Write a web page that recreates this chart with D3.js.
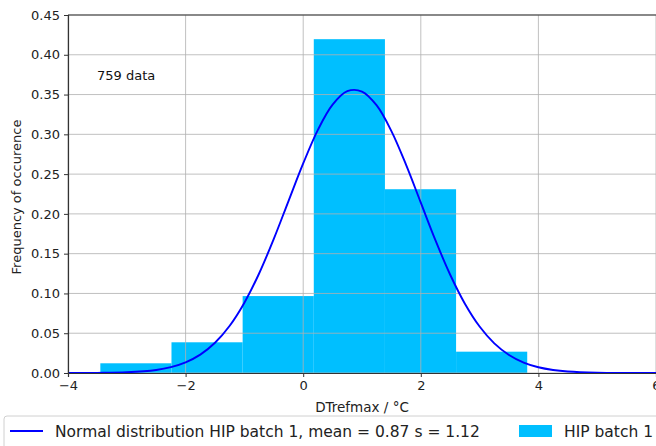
<!DOCTYPE html>
<html>
<head>
<meta charset="utf-8">
<script src="https://cdn.jsdelivr.net/npm/d3@7"></script>
<style>
  html, body { margin: 0; padding: 0; background: #fff; }
  svg { display: block; font-family: "DejaVu Sans", sans-serif; }
</style>
</head>
<body>
<svg id="chart" width="656" height="446"></svg>
<script>
// histogram bins (edges in °C) and density heights
const binEdges = [-3.45, -2.24, -1.03, 0.18, 1.39, 2.60, 3.81];
const binHeights = [0.0122, 0.0386, 0.0967, 0.4196, 0.2310, 0.0268];

// normal curve points (mean 0.87, s 1.12)
const curveX = [-4, -3.5, -3, -2.5, -2.25, -2, -1.75, -1.5, -1.25, -1, -0.75, -0.5, -0.25, 0, 0.25, 0.5, 0.75,
  1, 1.25, 1.5, 1.75, 2, 2.25, 2.5, 2.75, 3, 3.25, 3.5, 3.75, 4, 4.25, 4.5, 5, 5.5, 6];
const curveY = [0.00003, 0.00018, 0.00091, 0.00385, 0.0074, 0.0134, 0.0231, 0.0380, 0.0594, 0.0884, 0.1251,
  0.1686, 0.2161, 0.2634, 0.3056, 0.3373, 0.3542, 0.3538, 0.3363, 0.3041, 0.2616, 0.2141, 0.1667, 0.1235,
  0.0871, 0.0584, 0.0372, 0.0226, 0.0131, 0.0072, 0.0038, 0.0019, 0.0004, 0.00007, 0.00001];

const xTicks = [-4, -2, 0, 2, 4, 6];
const yTicks = [0, 0.05, 0.10, 0.15, 0.20, 0.25, 0.30, 0.35, 0.40, 0.45];

const plot = { left: 68, right: 656, top: 15, bottom: 373 };

const svg = d3.select('#chart');

const x = d3.scaleLinear().domain([-4, 6]).range([plot.left, plot.right]);
const y = d3.scaleLinear().domain([0, 0.45]).range([plot.bottom, plot.top]);

// bars
const bins = binHeights.map((h, i) => ({ x0: binEdges[i], x1: binEdges[i + 1], h }));
svg.append('g')
  .selectAll('rect')
  .data(bins)
  .enter()
  .append('rect')
  .attr('x', d => x(d.x0))
  .attr('width', d => x(d.x1) - x(d.x0))
  .attr('y', d => y(d.h))
  .attr('height', d => y(0) - y(d.h))
  .attr('fill', '#00bfff');

// grid (drawn above bars, like the original)
const grid = svg.append('g').attr('stroke', '#b0b0b0').attr('stroke-opacity', 0.8).attr('stroke-width', 1);
grid.selectAll('line.gx')
  .data(xTicks)
  .enter()
  .append('line')
  .attr('x1', d => x(d)).attr('x2', d => x(d))
  .attr('y1', plot.top).attr('y2', plot.bottom);
grid.selectAll('line.gy')
  .data(yTicks)
  .enter()
  .append('line')
  .attr('x1', plot.left).attr('x2', plot.right)
  .attr('y1', d => y(d)).attr('y2', d => y(d));

// normal curve
const line = d3.line()
  .x(d => x(d[0]))
  .y(d => y(d[1]))
  .curve(d3.curveCatmullRom);
svg.append('path')
  .datum(curveX.map((v, i) => [v, curveY[i]]))
  .attr('d', line)
  .attr('fill', 'none')
  .attr('stroke', '#0000ff')
  .attr('stroke-width', 1.9);

// axes
const xAxis = svg.append('g')
  .attr('transform', `translate(0,${plot.bottom})`)
  .call(d3.axisBottom(x).tickValues(xTicks).tickSize(4).tickPadding(4).tickFormat(d => d < 0 ? '\u2212' + Math.abs(d) : d));
const yAxis = svg.append('g')
  .attr('transform', `translate(${plot.left},0)`)
  .call(d3.axisLeft(y).tickValues(yTicks).tickSize(4).tickPadding(4).tickFormat(d3.format('.2f')));

[xAxis, yAxis].forEach(a => {
  a.selectAll('text').attr('font-size', 13).attr('fill', '#222').attr('font-family', '"DejaVu Sans", sans-serif');
  a.selectAll('line').attr('stroke', '#333');
  a.select('.domain').attr('stroke', '#333').attr('stroke-width', 1.2);
});

// top spine
svg.append('line')
  .attr('x1', plot.left).attr('x2', plot.right)
  .attr('y1', plot.top).attr('y2', plot.top)
  .attr('stroke', '#333').attr('stroke-width', 1.2);

// labels
svg.append('text')
  .attr('x', (plot.left + plot.right) / 2)
  .attr('y', 412)
  .attr('text-anchor', 'middle')
  .attr('font-size', 13.5)
  .attr('fill', '#222')
  .text('DTrefmax / °C');

svg.append('text')
  .attr('transform', `translate(21,${(plot.top + plot.bottom) / 2 + 3}) rotate(-90)`)
  .attr('text-anchor', 'middle')
  .attr('font-size', 13)
  .attr('fill', '#222')
  .text('Frequency of occurence');

svg.append('text')
  .attr('x', 97)
  .attr('y', 80)
  .attr('font-size', 13)
  .attr('fill', '#111')
  .text('759 data');

// legend
const legend = svg.append('g');
legend.append('rect')
  .attr('x', 4).attr('y', 416)
  .attr('width', 670).attr('height', 40)
  .attr('rx', 3)
  .attr('fill', '#fff')
  .attr('stroke', '#d0d0d0');
legend.append('line')
  .attr('x1', 10).attr('x2', 43)
  .attr('y1', 431).attr('y2', 431)
  .attr('stroke', '#0000ff').attr('stroke-width', 1.9);
legend.append('text')
  .attr('x', 55).attr('y', 437)
  .attr('font-size', 15.5)
  .attr('fill', '#222')
  .text('Normal distribution HIP batch 1, mean = 0.87 s = 1.12');
legend.append('rect')
  .attr('x', 519).attr('y', 425)
  .attr('width', 33).attr('height', 12)
  .attr('fill', '#00bfff');
legend.append('text')
  .attr('x', 564).attr('y', 437)
  .attr('font-size', 15.5)
  .attr('fill', '#222')
  .text('HIP batch 1');
</script>
</body>
</html>
